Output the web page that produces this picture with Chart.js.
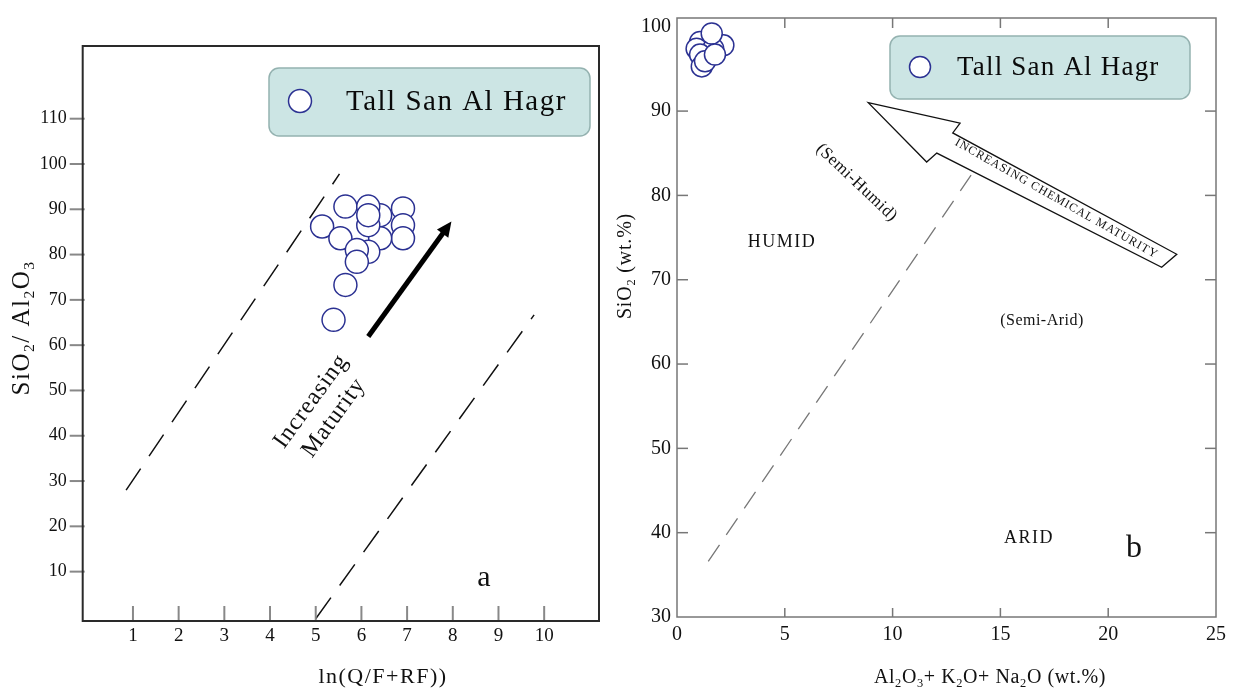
<!DOCTYPE html>
<html><head><meta charset="utf-8">
<script src="https://cdn.jsdelivr.net/npm/chart.js@4.4.1/dist/chart.umd.min.js"></script>
<style>
html,body{margin:0;padding:0;background:#fff;overflow:hidden;}
#wrapA{position:absolute;left:0;top:0;width:612px;height:688px;}
#wrapB{position:absolute;left:612px;top:0;width:627px;height:688px;}
</style></head><body>
<div id="wrapA"><canvas id="chartA" width="612" height="688"></canvas></div>
<div id="wrapB"><canvas id="chartB" width="627" height="688"></canvas></div>
<script>
// ---------- Panel a : SiO2/Al2O3 vs ln(Q/F+RF) ----------
const seriesName = 'Tall San Al Hagr';
const aX = [5.14,5.65,6.41,6.91,6.15,6.91,6.91,5.54,6.41,6.15,5.90,6.15,6.15,5.90,5.65,5.39];
const aY = [86.2,90.6,88.7,90.2,90.6,86.5,83.6,83.6,83.6,80.6,81.0,86.5,88.7,78.4,73.3,65.6];
const aXTicks = [1,2,3,4,5,6,7,8,9,10];
const aYTicks = [10,20,30,40,50,60,70,80,90,100,110];
const aUpperLineX = [0.85,5.52];
const aUpperLineY = [28.0,97.8];
const aLowerLineX = [5.0,9.78];
const aLowerLineY = [-0.4,66.7];
const aArrowX = [6.15,7.97];
const aArrowY = [61.9,87.3];

// ---------- Panel b : SiO2 vs Al2O3+K2O+Na2O ----------
const bX = [1.07,2.15,0.91,1.68,1.61,1.07,1.15,1.30,1.76];
const bY = [98.2,97.8,97.4,97.4,99.2,96.7,95.3,95.9,96.7];
const bXTicks = [0,5,10,15,20,25];
const bYTicks = [30,40,50,60,70,80,90,100];
const bDashX = [1.45,13.64];
const bDashY = [36.6,82.4];
const bArrowX = [8.87,13.13,12.79,23.18,22.48,12.05,11.58];
const bArrowY = [91.0,88.58,87.41,73.02,71.47,85.02,83.96];

const FONT = "'Liberation Serif','DejaVu Serif',serif";
const PT_COLOR = '#2b3192';

function pts(xs, ys){ return xs.map((x,i)=>({x:x, y:ys[i]})); }

function richWidth(ctx, segs, size){
  let w = 0;
  for (const [t, sub] of segs){ ctx.font = (sub? size*0.62 : size)+'px '+FONT; w += ctx.measureText(t).width; }
  return w;
}
function drawRich(ctx, segs, cx, cy, size, rot, spacing){
  ctx.save();
  ctx.translate(cx, cy);
  if (rot) ctx.rotate(rot);
  ctx.letterSpacing = (spacing||0)+'px';
  ctx.textAlign = 'left'; ctx.textBaseline = 'alphabetic';
  ctx.fillStyle = '#111';
  const w = richWidth(ctx, segs, size);
  let x = -w/2; const base = size*0.34;
  for (const [t, sub] of segs){
    ctx.font = (sub? size*0.62 : size)+'px '+FONT;
    ctx.fillText(t, x, base + (sub? size*0.2 : 0));
    x += ctx.measureText(t).width;
  }
  ctx.restore();
}
function drawText(ctx, t, cx, cy, size, rot, spacing){
  drawRich(ctx, [[t,0]], cx, cy, size, rot, spacing);
}
function legendBox(ctx, x0, y0, x1, y1, cx, cy, r, tx, size, spacing){
  ctx.save();
  ctx.beginPath();
  ctx.roundRect(x0, y0, x1-x0, y1-y0, 10);
  ctx.fillStyle = '#cce5e4'; ctx.fill();
  ctx.strokeStyle = '#94b2b0'; ctx.lineWidth = 1.5; ctx.stroke();
  ctx.beginPath(); ctx.arc(cx, cy, r, 0, Math.PI*2);
  ctx.fillStyle = '#fff'; ctx.fill();
  ctx.strokeStyle = PT_COLOR; ctx.lineWidth = 1.5; ctx.stroke();
  ctx.letterSpacing = spacing+'px';
  ctx.font = size+'px '+FONT; ctx.fillStyle = '#0a0a0a';
  ctx.textAlign = 'left'; ctx.textBaseline = 'middle';
  ctx.fillText(seriesName, tx, cy+1);
  ctx.restore();
}

const plugA = {
  id: 'decorA',
  afterDraw(chart){
    const {ctx, chartArea:a, scales:{x, y}} = chart;
    ctx.save();
    ctx.strokeStyle = '#888'; ctx.lineWidth = 2;
    aYTicks.forEach(v => { const py = y.getPixelForValue(v); ctx.beginPath(); ctx.moveTo(a.left-13, py); ctx.lineTo(a.left+2, py); ctx.stroke(); });
    aXTicks.forEach(v => { const px = x.getPixelForValue(v); ctx.beginPath(); ctx.moveTo(px, a.bottom); ctx.lineTo(px, a.bottom-15); ctx.stroke(); });
    ctx.strokeStyle = '#2a2a2a'; ctx.lineWidth = 2;
    ctx.strokeRect(a.left, a.top, a.right-a.left, a.bottom-a.top);
    const x1 = x.getPixelForValue(aArrowX[0]), y1 = y.getPixelForValue(aArrowY[0]);
    const x2 = x.getPixelForValue(aArrowX[1]), y2 = y.getPixelForValue(aArrowY[1]);
    const ang = Math.atan2(y2-y1, x2-x1), hl = 15, hw = 7;
    const bx = x2 - hl*Math.cos(ang), by = y2 - hl*Math.sin(ang);
    ctx.strokeStyle = '#000'; ctx.fillStyle = '#000'; ctx.lineWidth = 5; ctx.lineCap = 'butt';
    ctx.beginPath(); ctx.moveTo(x1, y1); ctx.lineTo(bx+2*Math.cos(ang), by+2*Math.sin(ang)); ctx.stroke();
    ctx.beginPath(); ctx.moveTo(x2, y2);
    ctx.lineTo(bx + hw*Math.sin(ang), by - hw*Math.cos(ang));
    ctx.lineTo(bx - hw*Math.sin(ang), by + hw*Math.cos(ang));
    ctx.closePath(); ctx.fill();
    ctx.restore();
    const rot = -54*Math.PI/180;
    drawText(ctx, 'Increasing', 321 - 14*Math.cos(rot+Math.PI/2), 408.5 - 14*Math.sin(rot+Math.PI/2), 24, rot, 1);
    drawText(ctx, 'Maturity', 321 + 14*Math.cos(rot+Math.PI/2), 408.5 + 14*Math.sin(rot+Math.PI/2), 24, rot, 1);
    drawText(ctx, 'a', 484, 576, 30, 0, 0);
    drawRich(ctx, [['SiO',0],['2',1],['/ Al',0],['2',1],['O',0],['3',1]], 20, 328, 25, -Math.PI/2, 1.5);
    drawText(ctx, 'ln(Q/F+RF))', 383, 676, 22, 0, 1.5);
    legendBox(ctx, 269, 68, 590, 136, 300, 101, 11.5, 346, 29, 1.5);
  }
};

const plugB = {
  id: 'decorB',
  afterDraw(chart){
    const {ctx, chartArea:a, scales:{x, y}} = chart;
    ctx.save();
    ctx.strokeStyle = '#777'; ctx.lineWidth = 1.5;
    bYTicks.slice(1, -1).forEach(v => { const py = y.getPixelForValue(v);
      ctx.beginPath(); ctx.moveTo(a.left, py); ctx.lineTo(a.left+11, py); ctx.stroke();
      ctx.beginPath(); ctx.moveTo(a.right, py); ctx.lineTo(a.right-11, py); ctx.stroke(); });
    bXTicks.slice(1, -1).forEach(v => { const px = x.getPixelForValue(v);
      ctx.beginPath(); ctx.moveTo(px, a.bottom); ctx.lineTo(px, a.bottom-9); ctx.stroke();
      ctx.beginPath(); ctx.moveTo(px, a.top); ctx.lineTo(px, a.top+10); ctx.stroke(); });
    ctx.strokeRect(a.left, a.top, a.right-a.left, a.bottom-a.top);
    ctx.beginPath();
    bArrowX.forEach((vx, i) => { const px = x.getPixelForValue(vx), py = y.getPixelForValue(bArrowY[i]); if (i) ctx.lineTo(px, py); else ctx.moveTo(px, py); });
    ctx.closePath();
    ctx.fillStyle = '#fff'; ctx.fill();
    ctx.strokeStyle = '#111'; ctx.lineWidth = 1.3; ctx.lineJoin = 'miter'; ctx.stroke();
    ctx.restore();
    drawText(ctx, 'INCREASING CHEMICAL MATURITY', 1057-612, 198, 12, 29.5*Math.PI/180, 1);
    drawText(ctx, '(Semi-Humid)', 857.5-612, 181.7, 17, 43.5*Math.PI/180, 0.5);
    drawText(ctx, 'HUMID', 782-612, 241, 18, 0, 1.5);
    drawText(ctx, '(Semi-Arid)', 1042-612, 320, 16, 0, 0.5);
    drawText(ctx, 'ARID', 1029-612, 537, 18, 0, 1.5);
    drawText(ctx, 'b', 1134-612, 546, 32, 0, 0);
    drawRich(ctx, [['SiO',0],['2',1],[' (wt.%)',0]], 624-612, 266, 20, -Math.PI/2, 0.8);
    drawRich(ctx, [['Al',0],['2',1],['O',0],['3',1],['+ K',0],['2',1],['O+ Na',0],['2',1],['O (wt.%)',0]], 990-612, 676, 20, 0, 0.6);
    legendBox(ctx, 890-612, 36, 1190-612, 99, 920-612, 67, 10.5, 957-612, 27, 1.2);
  }
};

const tickFont = (s) => ({family: FONT, size: s});

new Chart(document.getElementById('chartA'), {
  type: 'scatter',
  data: { datasets: [
    { label: seriesName, data: pts(aX, aY), pointRadius: 11.5, pointHoverRadius: 11.5, pointBorderWidth: 1.5,
      borderColor: PT_COLOR, backgroundColor: '#fff' },
    { label: 'upper', data: pts(aUpperLineX, aUpperLineY), showLine: true, pointRadius: 0,
      borderColor: '#111', borderWidth: 1.5, borderDash: [26,15] },
    { label: 'lower', data: pts(aLowerLineX, aLowerLineY), showLine: true, pointRadius: 0,
      borderColor: '#111', borderWidth: 1.5, borderDash: [26,15] }
  ]},
  options: {
    responsive: false, animation: false, devicePixelRatio: 1, events: [],
    layout: { padding: { top: 46, right: 10, left: 0, bottom: 0 } },
    plugins: { legend: { display: false }, tooltip: { enabled: false } },
    scales: {
      x: { type: 'linear', min: -0.1, max: 11.2,
        afterBuildTicks: s => { s.ticks = aXTicks.map(v => ({value: v})); },
        afterFit: s => { s.height = 67; },
        grid: { display: false, drawTicks: false }, border: { display: false },
        ticks: { autoSkip: false, maxRotation: 0, padding: 4, color: '#111', font: tickFont(19) } },
      y: { type: 'linear', min: -0.9, max: 126.05,
        afterBuildTicks: s => { s.ticks = aYTicks.map(v => ({value: v})); },
        afterFit: s => { s.width = 82.7; },
        grid: { display: false, drawTicks: false }, border: { display: false },
        ticks: { autoSkip: false, padding: 16, color: '#111', font: tickFont(18) } }
    }
  },
  plugins: [plugA]
});

new Chart(document.getElementById('chartB'), {
  type: 'scatter',
  data: { datasets: [
    { label: seriesName, data: pts(bX, bY), pointRadius: 10.5, pointHoverRadius: 10.5, pointBorderWidth: 1.5,
      borderColor: PT_COLOR, backgroundColor: '#fff' },
    { label: 'boundary', data: pts(bDashX, bDashY), showLine: true, pointRadius: 0,
      borderColor: '#777', borderWidth: 1.3, borderDash: [20,12] }
  ]},
  options: {
    responsive: false, animation: false, devicePixelRatio: 1, events: [],
    layout: { padding: { top: 11, right: 23, left: 0, bottom: 0 } },
    plugins: { legend: { display: false }, tooltip: { enabled: false } },
    scales: {
      x: { type: 'linear', min: 0, max: 25,
        afterBuildTicks: s => { s.ticks = bXTicks.map(v => ({value: v})); },
        afterFit: s => { s.height = 71; },
        grid: { display: false, drawTicks: false }, border: { display: false },
        ticks: { autoSkip: false, maxRotation: 0, padding: 6, color: '#111', font: tickFont(20) } },
      y: { type: 'linear', min: 30, max: 101.04,
        afterBuildTicks: s => { s.ticks = bYTicks.map(v => ({value: v})); },
        afterFit: s => { s.width = 65; },
        grid: { display: false, drawTicks: false }, border: { display: false },
        ticks: { autoSkip: false, padding: 6, color: '#111', font: tickFont(20) } }
    }
  },
  plugins: [plugB]
});
</script>
</body></html>
